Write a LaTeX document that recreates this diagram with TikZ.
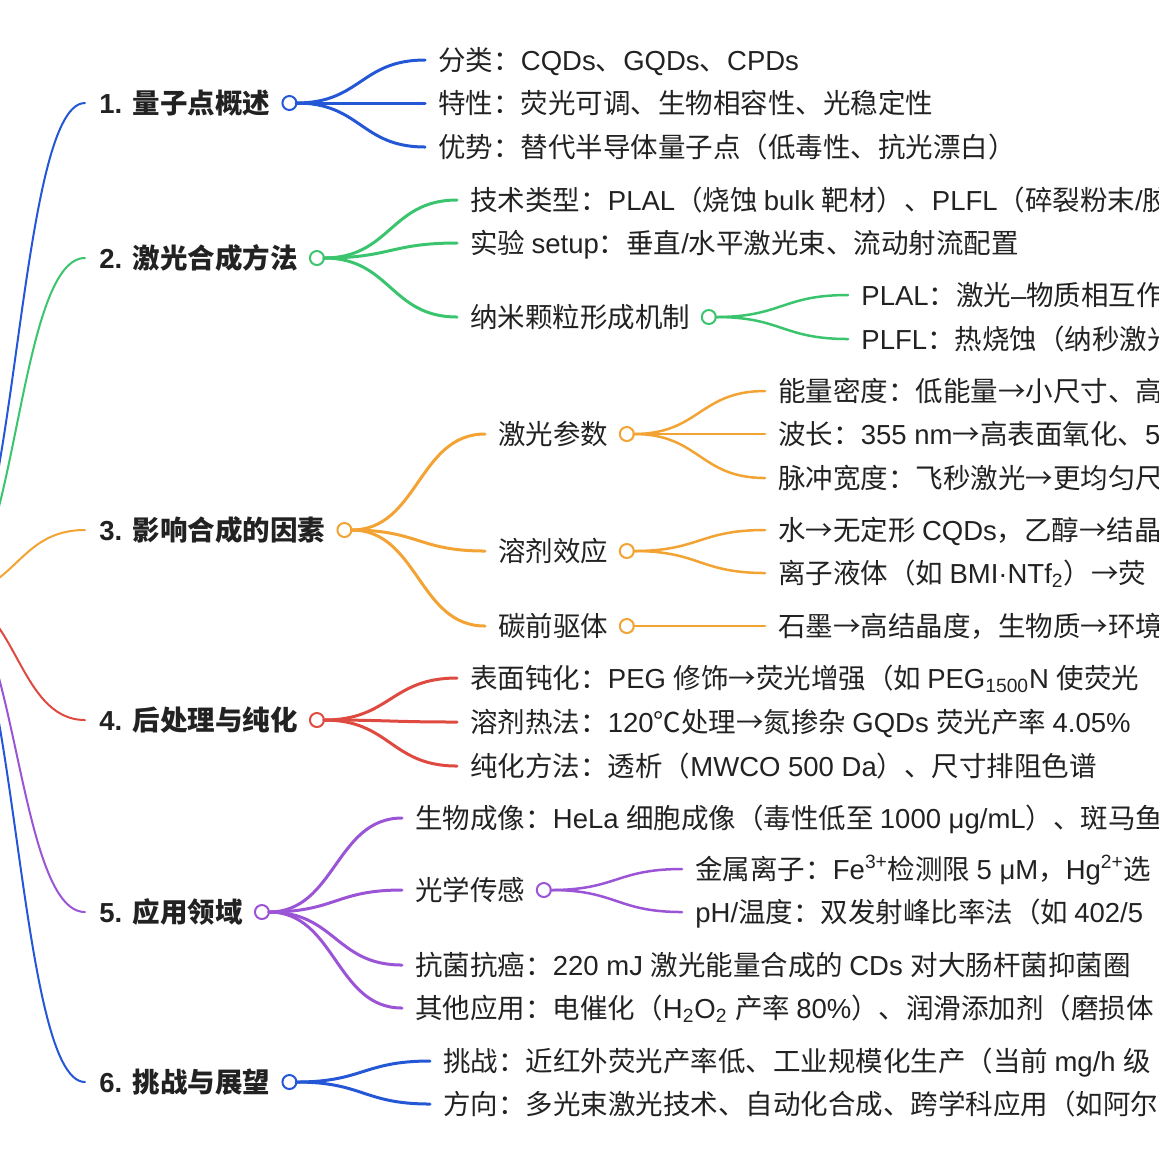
\documentclass[tikz,border=0pt]{standalone}
\usepackage{fontspec}
\setmainfont{Liberation Sans}
\newfontfamily\cjkfont{Noto Sans CJK SC}
\newfontfamily\latinfont{Liberation Sans}
% switch to the CJK font for Chinese characters and back for Latin ones
\XeTeXinterchartokenstate=1
\newXeTeXintercharclass\cjkclass
\newcount\cjkc
\def\setcjkrange#1#2{\cjkc=#1\relax
  \loop\XeTeXcharclass\cjkc=\cjkclass
  \ifnum\cjkc<#2\relax\advance\cjkc by 1 \repeat}
\setcjkrange{"3000}{"303F}
\setcjkrange{"4E00}{"9FFF}
\setcjkrange{"FF00}{"FFEF}
\XeTeXcharclass"2103=\cjkclass
\XeTeXcharclass"2192=\cjkclass
\XeTeXcharclass"00B7=0
\XeTeXinterchartoks 0 \cjkclass = {\cjkfont}
\XeTeXinterchartoks 4095 \cjkclass = {\cjkfont}
\XeTeXinterchartoks \cjkclass 0 = {\latinfont}
\XeTeXinterchartoks 4095 0 = {\latinfont}
\usetikzlibrary{positioning,calc}
\definecolor{qblue}{HTML}{2457D6}
\definecolor{qgreen}{HTML}{3AC46E}
\definecolor{qorange}{HTML}{F2A333}
\definecolor{qred}{HTML}{DE4A40}
\definecolor{qpurple}{HTML}{9B54D6}
\definecolor{ink}{HTML}{222222}
\begin{document}
\begin{tikzpicture}[x=0.5pt, y=-0.5pt,
    every node/.style={font=\fontsize{13.75}{16}\selectfont, text=ink},
    leaf/.style={anchor=west, inner xsep=6.5pt, inner ysep=0pt, text height=12.3pt, text depth=1.9pt},
    topic/.style={leaf, inner xsep=7pt, font=\fontsize{13.75}{16}\selectfont\bfseries},
    dot/.style={circle, draw=#1, fill=white, line width=1pt, minimum size=7pt, inner sep=0pt, outer sep=0pt},
    link/.style={line width=#1, line cap=round,
      to path={let \p1=(\tikztostart), \p2=(\tikztotarget), \n1={(\x2-\x1)/2} in
        .. controls +(\n1,0) and +(-\n1,0) .. (\tikztotarget)}}]
	\useasboundingbox (0,0) rectangle (1159,1158);
	\clip (0,0) rectangle (1159,1158);
	\coordinate (root) at (-52,595);
	% main branches
	\foreach \i/\yy/\col/\txt in {
			1/103/qblue/1. 量子点概述, 2/258/qgreen/2. 激光合成方法,
			3/530/qorange/3. 影响合成的因素, 4/720/qred/4. 后处理与纯化,
			5/912/qpurple/5. 应用领域, 6/1082/qblue/6. 挑战与展望
		} {
			\node[topic] (t\i) at (85,\yy) {\txt};
			\node[dot=\col, right=-1pt of t\i] (d\i) {};
			\draw[link=1pt, \col] (root) to (t\i.west);
		}
	% 1
	\foreach \k/\yy/\txt in {
			a/60/{分类：CQDs、GQDs、CPDs},
			b/103/{特性：荧光可调、生物相容性、光稳定性},
			c/147/{优势：替代半导体量子点（低毒性、抗光漂白）}
		} {
			\node[leaf] (s1\k) at (425,\yy) {\txt};
			\draw[link=1.5pt, qblue] (d1.east) to (s1\k.west);
		}
	% 2
	\foreach \k/\yy/\txt in {
			a/200/{技术类型：PLAL（烧蚀 bulk 靶材）、PLFL（碎裂粉末/胶},
			b/243/{实验 setup：垂直/水平激光束、流动射流配置},
			c/317/{纳米颗粒形成机制}
		} {
			\node[leaf] (s2\k) at (457,\yy) {\txt};
			\draw[link=1.5pt, qgreen] (d2.east) to (s2\k.west);
		}
	\node[dot=qgreen, right=-1pt of s2c] (e2c) {};
	\foreach \k/\yy/\txt in {
			a/295/{PLAL：激光–物质相互作},
			b/339/{PLFL：热烧蚀（纳秒激光}
		} {
			\node[leaf] (u2\k) at (848,\yy) {\txt};
			\draw[link=1.25pt, qgreen] (e2c.east) to (u2\k.west);
		}
	% 3
	\foreach \k/\yy/\txt in {a/434/激光参数, b/551/溶剂效应, c/626/碳前驱体} {
			\node[leaf] (s3\k) at (485,\yy) {\txt};
			\node[dot=qorange, right=-1pt of s3\k] (e3\k) {};
			\draw[link=1.5pt, qorange] (d3.east) to (s3\k.west);
		}
	\foreach \q/\k/\yy/\txt in {
			a/a/391/{能量密度：低能量→小尺寸、高},
			a/b/434/{波长：355 nm→高表面氧化、5},
			a/c/478/{脉冲宽度：飞秒激光→更均匀尺},
			b/d/530/{水→无定形 CQDs，乙醇→结晶},
			b/e/573/{离子液体（如 BMI·NTf\textsubscript{2}）→荧},
			c/f/626/{石墨→高结晶度，生物质→环境}
		} {
			\node[leaf] (u3\k) at (765,\yy) {\txt};
			\draw[link=1.25pt, qorange] (e3\q.east) to (u3\k.west);
		}
	% 4
	\foreach \k/\yy/\txt in {
			a/678/{表面钝化：PEG 修饰→荧光增强（如 PEG\textsubscript{1500}N 使荧光},
			b/722/{溶剂热法：120℃处理→氮掺杂 GQDs 荧光产率 4.05\%},
			c/766/{纯化方法：透析（MWCO 500 Da）、尺寸排阻色谱}
		} {
			\node[leaf] (s4\k) at (457,\yy) {\txt};
			\draw[link=1.5pt, qred] (d4.east) to (s4\k.west);
		}
	% 5
	\foreach \k/\yy/\txt in {
			a/818/{生物成像：HeLa 细胞成像（毒性低至 1000 μg/mL）、斑马鱼},
			b/890/{光学传感},
			c/965/{抗菌抗癌：220 mJ 激光能量合成的 CDs 对大肠杆菌抑菌圈},
			d/1008/{其他应用：电催化（H\textsubscript{2}O\textsubscript{2} 产率 80\%）、润滑添加剂（磨损体}
		} {
			\node[leaf] (s5\k) at (402,\yy) {\txt};
			\draw[link=1.5pt, qpurple] (d5.east) to (s5\k.west);
		}
	\node[dot=qpurple, right=-1pt of s5b] (e5b) {};
	\foreach \k/\yy/\txt in {
			a/869/{金属离子：Fe\textsuperscript{3+}检测限 5 μM，Hg\textsuperscript{2+}选},
			b/912/{pH/温度：双发射峰比率法（如 402/5}
		} {
			\node[leaf] (u5\k) at (682,\yy) {\txt};
			\draw[link=1.25pt, qpurple] (e5b.east) to (u5\k.west);
		}
	% 6
	\foreach \k/\yy/\txt in {
			a/1061/{挑战：近红外荧光产率低、工业规模化生产（当前 mg/h 级},
			b/1104/{方向：多光束激光技术、自动化合成、跨学科应用（如阿尔}
		} {
			\node[leaf] (s6\k) at (430,\yy) {\txt};
			\draw[link=1.5pt, qblue] (d6.east) to (s6\k.west);
		}
\end{tikzpicture}
\end{document}
